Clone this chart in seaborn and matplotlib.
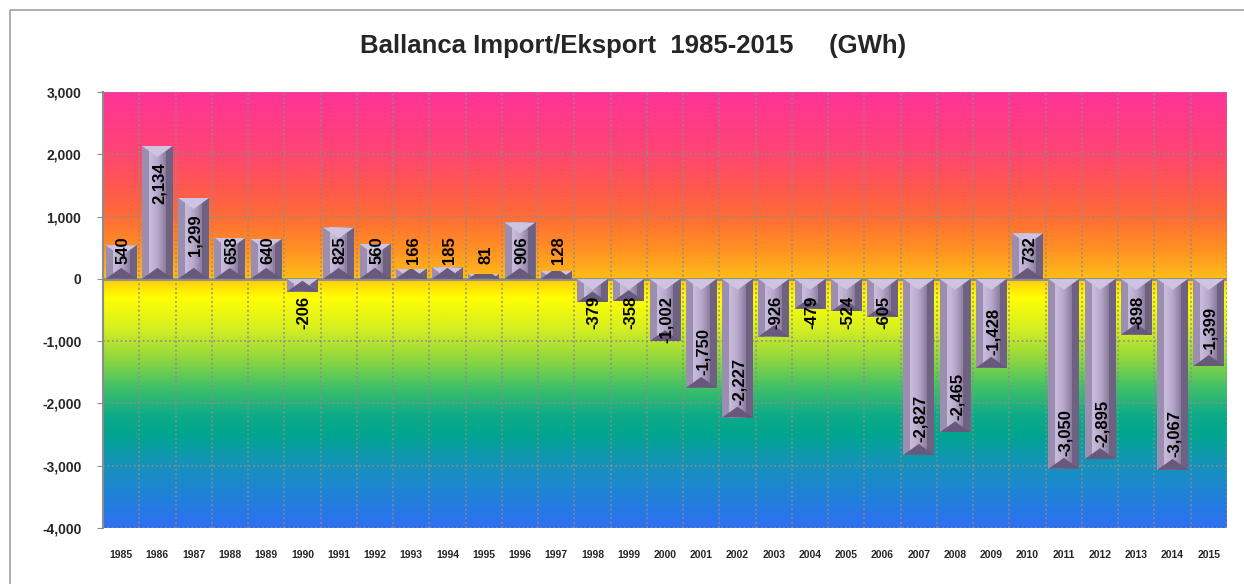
import numpy as np
import seaborn as sns
import matplotlib.pyplot as plt
from matplotlib.colors import LinearSegmentedColormap
from matplotlib.patches import Polygon
from matplotlib.lines import Line2D

years = [str(y) for y in range(1985, 2016)]
balance = [540, 2134, 1299, 658, 640, -206, 825, 560, 166, 185, 81, 906, 128,
           -379, -358, -1002, -1750, -2227, -926, -479, -524, -605, -2827,
           -2465, -1428, 732, -3050, -2895, -898, -3067, -1399]
y_ticks = [3000, 2000, 1000, 0, -1000, -2000, -3000, -4000]
title = "Ballanca Import/Eksport  1985-2015     (GWh)"

sns.set_style("white")
plt.rcParams["font.family"] = ["Liberation Sans", "DejaVu Sans"]

fig = plt.figure(figsize=(12.44, 5.84), dpi=100)
ax = fig.add_axes([103 / 1244, 1 - 528 / 584, 1124 / 1244, 436 / 584])

# background gradient, value -> colour
ymin, ymax = -4000, 3000
stops = [(-4000, "#2e6ff2"), (-3500, "#2082d8"), (-3000, "#1692bc"),
         (-2500, "#00a68e"), (-2200, "#0eaa88"), (-1750, "#40c068"),
         (-1300, "#8ed640"), (-800, "#d6ee22"), (-300, "#ffff00"),
         (-50, "#ffd20a"), (0, "#ffc010"), (100, "#ffb41a"), (500, "#ff8f24"),
         (1000, "#ff6c36"), (1500, "#ff5850"), (2100, "#ff4476"),
         (3000, "#ff3399")]
cmap = LinearSegmentedColormap.from_list(
    "bg", [((v - ymin) / (ymax - ymin), c) for v, c in stops])
grad = np.linspace(0, 1, 512).reshape(-1, 1)
ax.imshow(grad, cmap=cmap, origin="lower", aspect="auto",
          extent=(-0.5, len(years) - 0.5, ymin, ymax), zorder=0)

sns.barplot(x=years, y=balance, color="#a596b6", saturation=1, width=0.85,
            ax=ax, zorder=3)

ax.set_xlim(-0.5, len(years) - 0.5)
ax.set_ylim(ymin, ymax)
ax.set_yticks(y_ticks)
ax.set_yticklabels([f"{v:,}" for v in y_ticks], fontsize=10, fontweight="bold")
ax.set_xticks(range(len(years)))
ax.set_xticklabels(years, fontsize=7.5, fontweight="bold")
ax.set_xticks(np.arange(-0.5, len(years), 1), minor=True)
ax.tick_params(axis="x", which="both", length=0, pad=16)
ax.tick_params(axis="y", length=4.5, color="#8c8c8c", pad=11, left=True)
ax.grid(axis="y", which="major", ls=":", color="#8c8c8c", lw=1.2)
ax.grid(axis="x", which="minor", ls=":", color="#8c8c8c", lw=1.2)
ax.grid(axis="x", which="major", visible=False)
ax.set_axisbelow("line")
for s in ["top", "right", "bottom"]:
    ax.spines[s].set_visible(False)
ax.spines["left"].set_color("#8c8c8c")
ax.spines["left"].set_linewidth(1.5)
ax.axhline(0, color="#8c8c8c", lw=2, zorder=2)
ax.set_xlabel("")
ax.set_ylabel("")

# pixel -> data scale
bb = ax.get_window_extent()
px_y = (ymax - ymin) / bb.height
px_x = len(years) / bb.width

face = LinearSegmentedColormap.from_list(
    "face", ["#a697b9", "#c9bcdc", "#b7a9cb", "#8f80a1", "#76688b"])
hgrad = np.linspace(0, 1, 64).reshape(1, -1)
bev_y = 11 * px_y
bev_x = 7 * px_x
for p in ax.patches:
    x0, w = p.get_x(), p.get_width()
    y0, h = p.get_y(), p.get_height()
    lo, hi = min(y0, y0 + h), max(y0, y0 + h)
    x1, xc = x0 + w, x0 + w / 2
    p.set_edgecolor("none")
    im = ax.imshow(hgrad, cmap=face, aspect="auto", extent=(x0, x1, lo, hi),
                   zorder=3.1)
    im.set_clip_path(p)
    shapes = [
        ([(x0, lo), (x0 + bev_x, lo), (x0 + bev_x, hi), (x0, hi)], "#9c8eb0"),
        ([(x1 - bev_x, lo), (x1, lo), (x1, hi), (x1 - bev_x, hi)], "#6e6182"),
        ([(x0, hi), (x1, hi), (xc, hi - bev_y)], "#cfc3e2"),
        ([(x0, lo), (x1, lo), (xc, lo + bev_y)], "#66597c"),
    ]
    for pts, col in shapes:
        poly = Polygon(pts, closed=True, facecolor=col, edgecolor="none",
                       zorder=3.2)
        ax.add_patch(poly)
        poly.set_clip_path(p)

# value labels, rotated, placed near the bar end
renderer = fig.canvas.get_renderer()
inv = ax.transData.inverted()
for p, v in zip(ax.patches[:len(balance)], balance):
    xc = p.get_x() + p.get_width() / 2 + 0.05
    t = ax.text(xc, 0, f"{v:,}", rotation=90, ha="center", va="center",
                fontsize=12, fontweight="bold", color="black", zorder=5)
    e = t.get_window_extent(renderer).transformed(inv)
    L = e.height
    if v >= 0:
        if v - 270 - L >= 240:
            t.set_y(v - 270)
            t.set_va("top")
        else:
            t.set_y(240)
            t.set_va("bottom")
    else:
        if v + 200 + L <= -270:
            t.set_y(v + 200)
            t.set_va("bottom")
        else:
            t.set_y(-270)
            t.set_va("top")

fig.text(633 / 1244, 1 - 46 / 584, title, ha="center", va="center",
         fontsize=18.5, fontweight="bold")

# outer frame of the chart area
fig.add_artist(Line2D([9.5 / 1244, 9.5 / 1244, 1], [0, 1 - 9.5 / 584, 1 - 9.5 / 584],
                      color="#a0a0a0", lw=1.2))

fig.savefig("out.png", dpi=100)
